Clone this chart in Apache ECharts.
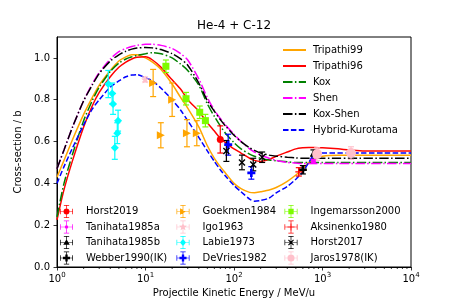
<!DOCTYPE html>
<html><head><meta charset="utf-8">
<script src="https://cdn.jsdelivr.net/npm/echarts@6/dist/echarts.min.js"></script>
<style>html,body{margin:0;padding:0;background:#fff}#c{width:457px;height:305px}</style>
</head><body><div id="c"></div>
<script>
// ---- model curves (energy grid in MeV/u, cross-section in b) ----
const E_GRID = [1, 1.2, 1.5, 2, 2.5, 3, 4, 5, 6, 7, 8, 10, 12, 15, 20, 25, 30, 40, 50, 60, 70, 80, 100, 120, 150, 170, 200, 250, 300, 400, 500, 600, 700, 800, 1000, 1500, 2000, 3000, 5000, 10000];
const TRIPATHI99 = [0.43, 0.51, 0.61, 0.73, 0.81, 0.87, 0.94, 0.985, 1.005, 1.015, 1.015, 1.0, 0.98, 0.945, 0.875, 0.81, 0.76, 0.67, 0.58, 0.52, 0.48, 0.45, 0.40, 0.375, 0.357, 0.355, 0.36, 0.368, 0.38, 0.41, 0.44, 0.47, 0.50, 0.515, 0.53, 0.535, 0.535, 0.535, 0.535, 0.535];
const TRIPATHI96 = [0.225, 0.37, 0.51, 0.67, 0.77, 0.835, 0.91, 0.955, 0.98, 0.995, 1.003, 1.005, 0.99, 0.955, 0.895, 0.85, 0.80, 0.745, 0.69, 0.65, 0.615, 0.595, 0.565, 0.545, 0.52, 0.51, 0.505, 0.515, 0.53, 0.55, 0.565, 0.57, 0.572, 0.572, 0.57, 0.565, 0.56, 0.555, 0.555, 0.555];
const KOX = [0.24, 0.40, 0.54, 0.70, 0.795, 0.86, 0.935, 0.975, 0.995, 1.005, 1.012, 1.02, 1.025, 1.02, 1.0, 0.97, 0.94, 0.87, 0.78, 0.72, 0.675, 0.64, 0.595, 0.565, 0.54, 0.53, 0.52, 0.512, 0.508, 0.503, 0.50, 0.50, 0.50, 0.50, 0.50, 0.50, 0.50, 0.50, 0.50, 0.50];
const SHEN = [0.47, 0.56, 0.67, 0.795, 0.875, 0.93, 0.995, 1.03, 1.045, 1.055, 1.06, 1.065, 1.065, 1.06, 1.045, 1.02, 0.99, 0.90, 0.81, 0.75, 0.71, 0.68, 0.635, 0.60, 0.565, 0.55, 0.535, 0.52, 0.51, 0.50, 0.497, 0.495, 0.495, 0.495, 0.495, 0.495, 0.495, 0.495, 0.495, 0.495];
const KOX_SHEN = [0.47, 0.56, 0.67, 0.795, 0.87, 0.925, 0.985, 1.015, 1.032, 1.042, 1.047, 1.05, 1.048, 1.04, 1.02, 0.995, 0.965, 0.88, 0.795, 0.745, 0.705, 0.675, 0.63, 0.60, 0.57, 0.558, 0.545, 0.535, 0.53, 0.525, 0.522, 0.52, 0.52, 0.52, 0.52, 0.52, 0.52, 0.52, 0.52, 0.52];
const HYBRID_KUROTAMA = [0.40, 0.48, 0.57, 0.68, 0.755, 0.80, 0.86, 0.89, 0.91, 0.918, 0.92, 0.905, 0.89, 0.855, 0.80, 0.75, 0.70, 0.62, 0.555, 0.505, 0.465, 0.435, 0.39, 0.36, 0.325, 0.315, 0.318, 0.33, 0.355, 0.385, 0.42, 0.455, 0.50, 0.535, 0.545, 0.545, 0.545, 0.545, 0.545, 0.545];

// ---- measurements: energy (MeV/u), cross-section (b), error (b) ----
const HORST2019_E = [70], HORST2019_S = [0.61], HORST2019_ERR = [0.065];
const TANIHATA1985A_E = [790], TANIHATA1985A_S = [0.505], TANIHATA1985A_ERR = [0.01];
const TANIHATA1985B_E = [790], TANIHATA1985B_S = [0.545], TANIHATA1985B_ERR = [0.015];
const WEBBER1990_E = [600], WEBBER1990_S = [0.465], WEBBER1990_ERR = [0.02];
const GOEKMEN1984_E = [12.2, 14.9, 20, 29.4, 38], GOEKMEN1984_S = [0.88, 0.63, 0.80, 0.64, 0.64], GOEKMEN1984_ERR = [0.065, 0.06, 0.08, 0.065, 0.06];
const IGO1963_E = [9.9], IGO1963_S = [0.897], IGO1963_ERR = [0.012];
const LABIE1973_E = [3.8, 4.2, 4.3, 4.9, 4.8, 4.5], LABIE1973_S = [0.875, 0.83, 0.78, 0.70, 0.64, 0.57], LABIE1973_ERR = [0.065, 0.05, 0.05, 0.05, 0.05, 0.055];
const DEVRIES1982_E = [86, 157], DEVRIES1982_S = [0.585, 0.45], DEVRIES1982_ERR = [0.05, 0.03];
const INGEMARSSON2000_E = [17, 28.7, 41, 47.5], INGEMARSSON2000_S = [0.96, 0.805, 0.74, 0.70], INGEMARSSON2000_ERR = [0.03, 0.03, 0.03, 0.03];
const AKSINENKO1980_E = [540], AKSINENKO1980_S = [0.455], AKSINENKO1980_ERR = [0.02];
const HORST2017_E = [82, 123, 165, 208], HORST2017_S = [0.555, 0.50, 0.49, 0.525], HORST2017_ERR = [0.05, 0.035, 0.03, 0.025];
const JAROS1978_E = [870, 2100], JAROS1978_S = [0.54, 0.545], JAROS1978_ERR = [0.03, 0.03];

const X_MINOR_TICKS = [2,3,4,5,6,7,8,9,20,30,40,50,60,70,80,90,200,300,400,500,600,700,800,900,2000,3000,4000,5000,6000,7000,8000,9000];

const FONT = 'DejaVu Sans';
const CROSS = 'M1,11.4H23V12.6H1Z M11.4,1H12.6V23H11.4Z M7.5,1H16.5V2.2H7.5Z M7.5,21.8H16.5V23H7.5Z M1,7.5H2.2V16.5H1Z M21.8,7.5H23V16.5H21.8Z';
const SHAPES = {
  circle: 'M7,12A5,5 0 1 1 17,12A5,5 0 1 1 7,12Z',
  small: 'M9,12A3,3 0 1 1 15,12A3,3 0 1 1 9,12Z',
  big: 'M6,12A6,6 0 1 1 18,12A6,6 0 1 1 6,12Z',
  tri: 'M12,6.5L17.5,16H6.5Z',
  right: 'M7,6.5L17,12L7,17.5Z',
  diamond: 'M12,5.5L17,12L12,18.5L7,12Z',
  square: 'M7.5,7.5H16.5V16.5H7.5Z',
  plus: 'M10,6H14V10H18V14H14V18H10V14H6V10H10Z',
  thinplus: 'M11,6H13V11H18V13H13V18H11V13H6V11H11Z',
  star: 'M12,5L13.8,9.6L18.7,9.8L14.9,12.9L16.2,17.6L12,14.9L7.8,17.6L9.1,12.9L5.3,9.8L10.2,9.6Z',
  x: 'M7,8.4L8.4,7L12,10.6L15.6,7L17,8.4L13.4,12L17,15.6L15.6,17L12,13.4L8.4,17L7,15.6L10.6,12Z'
};
const SYM = {
  circle: 'circle', small: 'circle', big: 'circle', tri: 'triangle', right: 'triangle',
  diamond: 'diamond', square: 'rect',
  plus: 'path://' + SHAPES.plus, thinplus: 'path://' + SHAPES.thinplus,
  star: 'path://' + SHAPES.star, x: 'path://' + SHAPES.x
};

const experiments = [
  {name: 'Horst2019', e: HORST2019_E, s: HORST2019_S, err: HORST2019_ERR, color: '#ff0000', shape: 'circle', size: 7},
  {name: 'Tanihata1985a', e: TANIHATA1985A_E, s: TANIHATA1985A_S, err: TANIHATA1985A_ERR, color: '#ff00ff', shape: 'small', size: 5},
  {name: 'Tanihata1985b', e: TANIHATA1985B_E, s: TANIHATA1985B_S, err: TANIHATA1985B_ERR, color: '#000000', shape: 'tri', size: 7},
  {name: 'Webber1990(IK)', e: WEBBER1990_E, s: WEBBER1990_S, err: WEBBER1990_ERR, color: '#000000', shape: 'plus', size: 8},
  {name: 'Goekmen1984', e: GOEKMEN1984_E, s: GOEKMEN1984_S, err: GOEKMEN1984_ERR, color: '#ffa500', shape: 'right', size: 8},
  {name: 'Igo1963', e: IGO1963_E, s: IGO1963_S, err: IGO1963_ERR, color: '#ffc0cb', shape: 'star', size: 8},
  {name: 'Labie1973', e: LABIE1973_E, s: LABIE1973_S, err: LABIE1973_ERR, color: '#00ffff', shape: 'diamond', size: 8},
  {name: 'DeVries1982', e: DEVRIES1982_E, s: DEVRIES1982_S, err: DEVRIES1982_ERR, color: '#0000ff', shape: 'plus', size: 8},
  {name: 'Ingemarsson2000', e: INGEMARSSON2000_E, s: INGEMARSSON2000_S, err: INGEMARSSON2000_ERR, color: '#7cfc00', shape: 'square', size: 7},
  {name: 'Aksinenko1980', e: AKSINENKO1980_E, s: AKSINENKO1980_S, err: AKSINENKO1980_ERR, color: '#ff0000', shape: 'thinplus', size: 7},
  {name: 'Horst2017', e: HORST2017_E, s: HORST2017_S, err: HORST2017_ERR, color: '#000000', shape: 'x', size: 7},
  {name: 'Jaros1978(IK)', e: JAROS1978_E, s: JAROS1978_S, err: JAROS1978_ERR, color: '#ffc0cb', shape: 'big', size: 10}
];

const models = [
  {name: 'Tripathi99', data: TRIPATHI99, color: '#ffa500', type: 'solid'},
  {name: 'Tripathi96', data: TRIPATHI96, color: '#ff0000', type: 'solid'},
  {name: 'Kox', data: KOX, color: '#008000', type: [9.5, 2.4, 1.5, 2.4]},
  {name: 'Shen', data: SHEN, color: '#ff00ff', type: [9.5, 2.4, 1.5, 2.4]},
  {name: 'Kox-Shen', data: KOX_SHEN, color: '#000000', type: [9.5, 2.4, 1.5, 2.4]},
  {name: 'Hybrid-Kurotama', data: HYBRID_KUROTAMA, color: '#0000ff', type: [5.5, 2.4]}
];

const series = [];
models.forEach(m => series.push({
  name: m.name, type: 'line', data: E_GRID.map((x, i) => [x, m.data[i]]),
  symbol: 'none', smooth: 0.25, z: 2,
  lineStyle: {color: m.color, width: 1.5, type: m.type}, itemStyle: {color: m.color}
}));

function errRender(color) {
  return function (params, api) {
    const x = api.value(0);
    const lo = api.coord([x, api.value(1)]);
    const hi = api.coord([x, api.value(2)]);
    const cap = 3;
    const st = {stroke: color, lineWidth: 1.2};
    return {type: 'group', children: [
      {type: 'line', shape: {x1: lo[0], y1: lo[1], x2: hi[0], y2: hi[1]}, style: st},
      {type: 'line', shape: {x1: lo[0] - cap, y1: lo[1], x2: lo[0] + cap, y2: lo[1]}, style: st},
      {type: 'line', shape: {x1: hi[0] - cap, y1: hi[1], x2: hi[0] + cap, y2: hi[1]}, style: st}
    ]};
  };
}

experiments.forEach(d => {
  series.push({
    name: d.name + ' err', type: 'custom', z: 3, silent: true,
    renderItem: errRender(d.color),
    data: d.e.map((x, i) => [x, d.s[i] - d.err[i], d.s[i] + d.err[i]])
  });
  series.push({
    name: d.name, type: 'scatter', z: 4,
    symbol: SYM[d.shape], symbolSize: d.size, symbolRotate: d.shape === 'right' ? -90 : 0,
    itemStyle: {color: d.color, opacity: 1},
    data: d.e.map((x, i) => [x, d.s[i]])
  });
});

series.push({
  name: 'minor ticks', type: 'custom', silent: true, clip: false, z: 5,
  renderItem: function (params, api) {
    const p = api.coord([api.value(0), 0]);
    return {type: 'line', shape: {x1: p[0], y1: p[1], x2: p[0], y2: p[1] + 2}, style: {stroke: '#000', lineWidth: 0.8}};
  },
  data: X_MINOR_TICKS.map(x => [x])
});

function expLegend(names, left) {
  return {
    orient: 'vertical', left: left, top: 205, padding: 0, itemWidth: 13, itemHeight: 13, itemGap: 2.5,
    selectedMode: false,
    textStyle: {fontFamily: FONT, fontSize: 10, color: '#000', padding: [0, 0, 0, 8], lineHeight: 13},
    data: names.map(n => {
      const d = experiments.find(e => e.name === n);
      return {name: n, icon: 'path://' + CROSS + ' ' + SHAPES[d.shape]};
    })
  };
}

const option = {
  animation: false,
  backgroundColor: '#fff',
  title: {text: 'He-4 + C-12', left: 234, top: 20, padding: 0, textAlign: 'center',
    textStyle: {fontFamily: FONT, fontSize: 12, fontWeight: 'normal', color: '#000'}},
  grid: {left: 57, right: 46, top: 37, bottom: 38, show: true, borderColor: '#000', borderWidth: 1, backgroundColor: 'transparent'},
  legend: [
    {orient: 'vertical', left: 282, top: 44, padding: 0, itemWidth: 23, itemHeight: 10, itemGap: 4, selectedMode: false,
      itemStyle: {opacity: 0},
      textStyle: {fontFamily: FONT, fontSize: 10, color: '#000', lineHeight: 12, padding: [0, 0, 0, 2]},
      data: models.map(m => m.name)},
    expLegend(['Horst2019', 'Tanihata1985a', 'Tanihata1985b', 'Webber1990(IK)'], 60),
    expLegend(['Goekmen1984', 'Igo1963', 'Labie1973', 'DeVries1982'], 176.5),
    expLegend(['Ingemarsson2000', 'Aksinenko1980', 'Horst2017', 'Jaros1978(IK)'], 284.5)
  ],
  xAxis: {
    type: 'log', logBase: 10, min: 1, max: 10000,
    name: 'Projectile Kinetic Energy / MeV/u', nameLocation: 'middle', nameGap: 20,
    nameTextStyle: {fontFamily: FONT, fontSize: 10, color: '#000'},
    axisLine: {show: true, lineStyle: {color: '#000', width: 1}},
    axisTick: {show: true, length: 3.5, lineStyle: {color: '#000', width: 0.8}},
    splitLine: {show: false}, minorTick: {show: false},
    axisLabel: {color: '#000', fontFamily: FONT, fontSize: 10, margin: 5,
      formatter: v => '10{s|' + Math.round(Math.log10(v)) + '}',
      rich: {s: {fontSize: 7, verticalAlign: 'top', padding: [0, 0, 7, 0], fontFamily: FONT, color: '#000'}}}
  },
  yAxis: {
    type: 'value', min: 0, max: 1.1, interval: 0.2,
    name: 'Cross-section / b', nameLocation: 'middle', nameGap: 23,
    nameTextStyle: {fontFamily: FONT, fontSize: 10, color: '#000'},
    axisLine: {show: true, lineStyle: {color: '#000', width: 1}},
    axisTick: {show: true, length: 3.5, lineStyle: {color: '#000', width: 0.8}},
    splitLine: {show: false},
    axisLabel: {color: '#000', fontFamily: FONT, fontSize: 10, margin: 7, showMaxLabel: false,
      formatter: v => v.toFixed(1)}
  },
  series: series
};

const chart = echarts.init(document.getElementById('c'), null, {renderer: 'canvas'});
chart.setOption(option);
</script></body></html>
